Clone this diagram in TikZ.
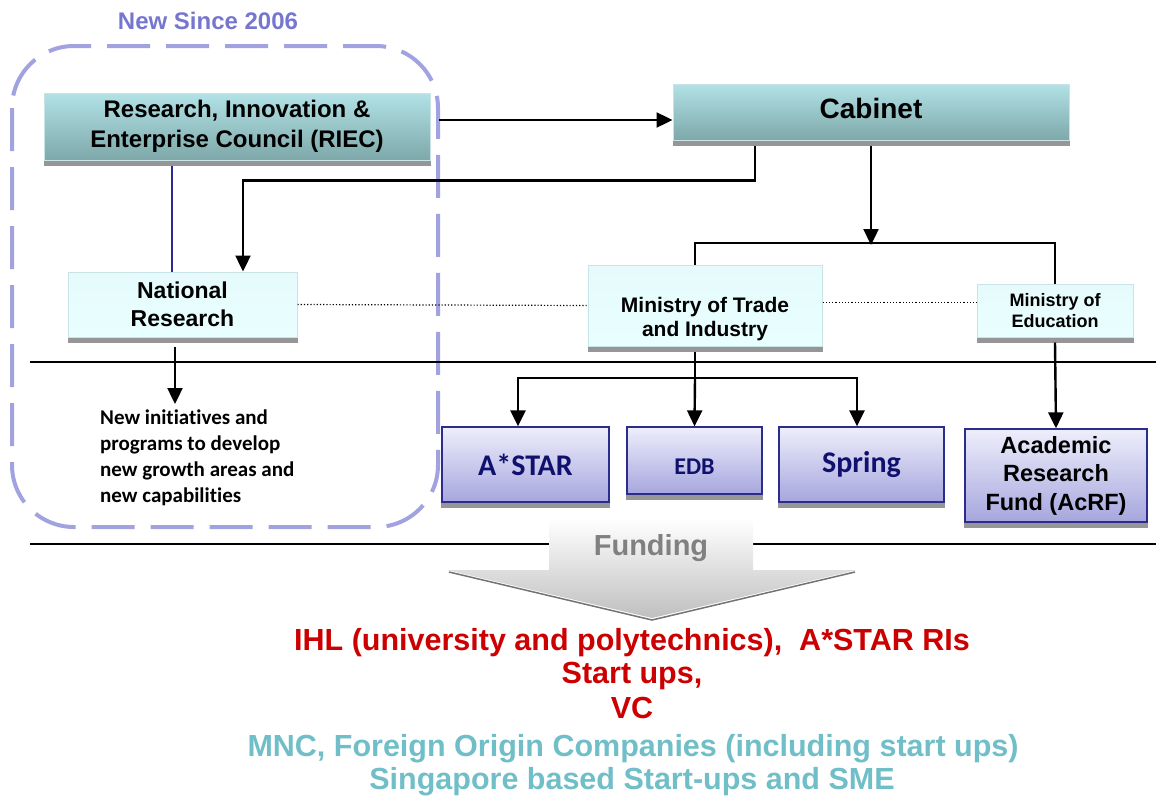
\documentclass[tikz,border=0pt]{standalone}
\usepackage{fontspec}
\setmainfont{Liberation Sans}
\newfontfamily\calfont[Ligatures=NoCommon]{Carlito}
\usetikzlibrary{arrows.meta}

\definecolor{dashblue}{RGB}{162,162,224}
\definecolor{newblue}{RGB}{118,118,208}
\definecolor{tealtop}{RGB}{178,226,230}
\definecolor{tealbot}{RGB}{126,168,170}
\definecolor{cyantop}{RGB}{230,250,252}
\definecolor{cyanbot}{RGB}{232,255,255}
\definecolor{cyanedge}{RGB}{200,228,230}
\definecolor{lavtop}{RGB}{238,238,252}
\definecolor{lavbot}{RGB}{166,166,222}
\definecolor{navyedge}{RGB}{44,44,140}
\definecolor{navytext}{RGB}{16,16,110}
\definecolor{shadowgray}{RGB}{150,150,150}
\definecolor{fundred}{RGB}{204,0,0}
\definecolor{fundteal}{RGB}{112,190,200}

\newcommand{\fs}[1]{\fontsize{#1}{#1}\selectfont\bfseries}

\tikzset{
  conn/.style={line width=2.4pt},
  arr/.style={conn, -{Triangle[width=15pt,length=16pt]}},
  box/.style={rectangle, inner sep=0pt, align=center},
  tealbox/.style={box, draw=cyanedge, line width=1pt, top color=tealtop, bottom color=tealbot},
  cyanbox/.style={box, draw=cyanedge, line width=1pt, top color=cyantop, bottom color=cyanbot},
  lavbox/.style={box, draw=navyedge, line width=1.3pt, top color=lavtop, bottom color=lavbot},
  fundtext/.style={font=\fs{30.5}, inner sep=0pt, anchor=base}
}

\begin{document}
\begin{tikzpicture}[x=1pt, y=-1pt]
  \useasboundingbox (0,0) rectangle (1156,795);

  % new since 2006
  \draw[dashblue, line width=4pt, dash pattern=on 43pt off 16pt, rounded corners=62pt]
    (12,46) rectangle (438,527);
  \node[newblue, font=\fs{24}] (since) at (208,21) {New Since 2006};

  % top boxes
  \node[tealbox, minimum width=386, minimum height=67, font=\fs{24}] (riec) at (237,126.5)
    {Research, Innovation \&\\[6pt]Enterprise Council (RIEC)};
  \node[tealbox, minimum width=396, minimum height=56] (cab) at (871,112) {};
  \node[font=\fs{28}] (cabt) at (871,108) {Cabinet};
  \node[cyanbox, minimum width=229, minimum height=65, font=\fs{23}] (nr) at (182.5,304.5)
    {National\\[5pt]Research};
  \node[cyanbox, minimum width=234, minimum height=81] (mti) at (705,305.5) {};
  \node[font=\fs{21}, align=center] (mtit) at (705,319) {Ministry of Trade\\[3pt]and Industry};
  \node[cyanbox, minimum width=156, minimum height=53, font=\fs{18}] (moe) at (1055,310.5)
    {Ministry of\\[3pt]Education};

  % agencies
  \node[lavbox, minimum width=167, minimum height=75, text=navytext, font=\calfont\fs{30}] (astar) at (525.5,464.5) {A*STAR};
  \node[lavbox, minimum width=135, minimum height=67] (edb) at (694.5,460.5) {};
  \node[text=navytext, font=\calfont\fs{24}] (edbt) at (694.5,467) {EDB};
  \node[lavbox, minimum width=165, minimum height=75, text=navytext, font=\calfont\fs{30}] (spring) at (861.5,464.5) {Spring};
  \node[lavbox, minimum width=182, minimum height=93, font=\fs{23.5}] (acrf) at (1056,475.5)
    {Academic\\[5pt]Research\\[5pt]Fund (AcRF)};

  \foreach \b in {riec,cab,nr,mti,moe,astar,edb,spring,acrf}
    \fill[shadowgray] ([yshift=-0.5pt]\b.south west) rectangle ([yshift=-5pt]\b.south east);

  \node[anchor=north west, align=left, inner sep=0pt, font=\calfont\fs{21}] (init) at (100,410)
    {New initiatives and\\[5pt]programs to develop\\[5pt]new growth areas and\\[5pt]new capabilities};

  % connectors
  \draw[arr] ([xshift=8pt,yshift=6.5pt]riec.east) -- ([yshift=-8pt]cab.west);
  \draw[arr] ([xshift=-116pt,yshift=-5pt]cab.south) -- ++(0,35) -| ([xshift=60.5pt]nr.north);
  \draw[navyedge, line width=1.2pt] ([xshift=-65pt,yshift=-5pt]riec.south) -- ([xshift=-10.5pt]nr.north);
  \coordinate (split) at (871,245);
  \coordinate (bar) at (871,243);
  \draw[arr] ([yshift=-5pt]cab.south) -- (split);
  \draw[conn] ([xshift=-10pt]mti.north) |- (bar) -| (moe.north);
  \draw[line width=1.2pt, dotted] (nr.east) -- (mti.west);
  \draw[line width=1.2pt, dotted] ([yshift=3pt]mti.east) -- ([yshift=3pt]mti.east -| moe.west);
  \coordinate (initarrow) at (175,404);
  \draw[arr] ([xshift=-7.5pt,yshift=-9pt]nr.south) -- (initarrow);
  \coordinate (fork) at (695,378);
  \draw[conn] ([xshift=-10pt,yshift=-5pt]mti.south) -- (fork);
  \draw[arr] (fork) -| ([xshift=-7.5pt]astar.north);
  \draw[arr] (fork) -- (edb.north);
  \draw[arr] (fork) -| ([xshift=-4.5pt]spring.north);
  \draw[arr] ([yshift=-5pt]moe.south) -- (acrf.north);

  % rules
  \draw[line width=1.8pt] (30,362) -- (1156,362);
  \draw[line width=1.8pt] (30,544) -- (549,544);
  \draw[line width=1.8pt] (753,544) -- (1156,544);

  % funding arrow
  \shade[top color=white, bottom color=black!25]
    (549,519) -- (753,519) -- (753,570) -- (857,570) -- (652,618) -- (447,570) -- (549,570) -- cycle;
  \draw[black!55, line width=1.5pt] (449,572) -- (652,620) -- (855,572);
  \node[text=black!50, font=\fs{29}] (fund) at (651,548) {Funding};

  % recipients
  \node[text=fundred, fundtext] (ihl) at (632,650) {IHL (university and polytechnics),\ \ A*STAR RIs};
  \node[text=fundred, fundtext] (start) at (632,683) {Start ups,};
  \node[text=fundred, fundtext] (vc) at (632,718) {VC};
  \node[text=fundteal, fundtext] (mnc) at (633,756) {MNC, Foreign Origin Companies (including start ups)};
  \node[text=fundteal, fundtext] (sme) at (632,789) {Singapore based Start-ups and SME};
\end{tikzpicture}
\end{document}
